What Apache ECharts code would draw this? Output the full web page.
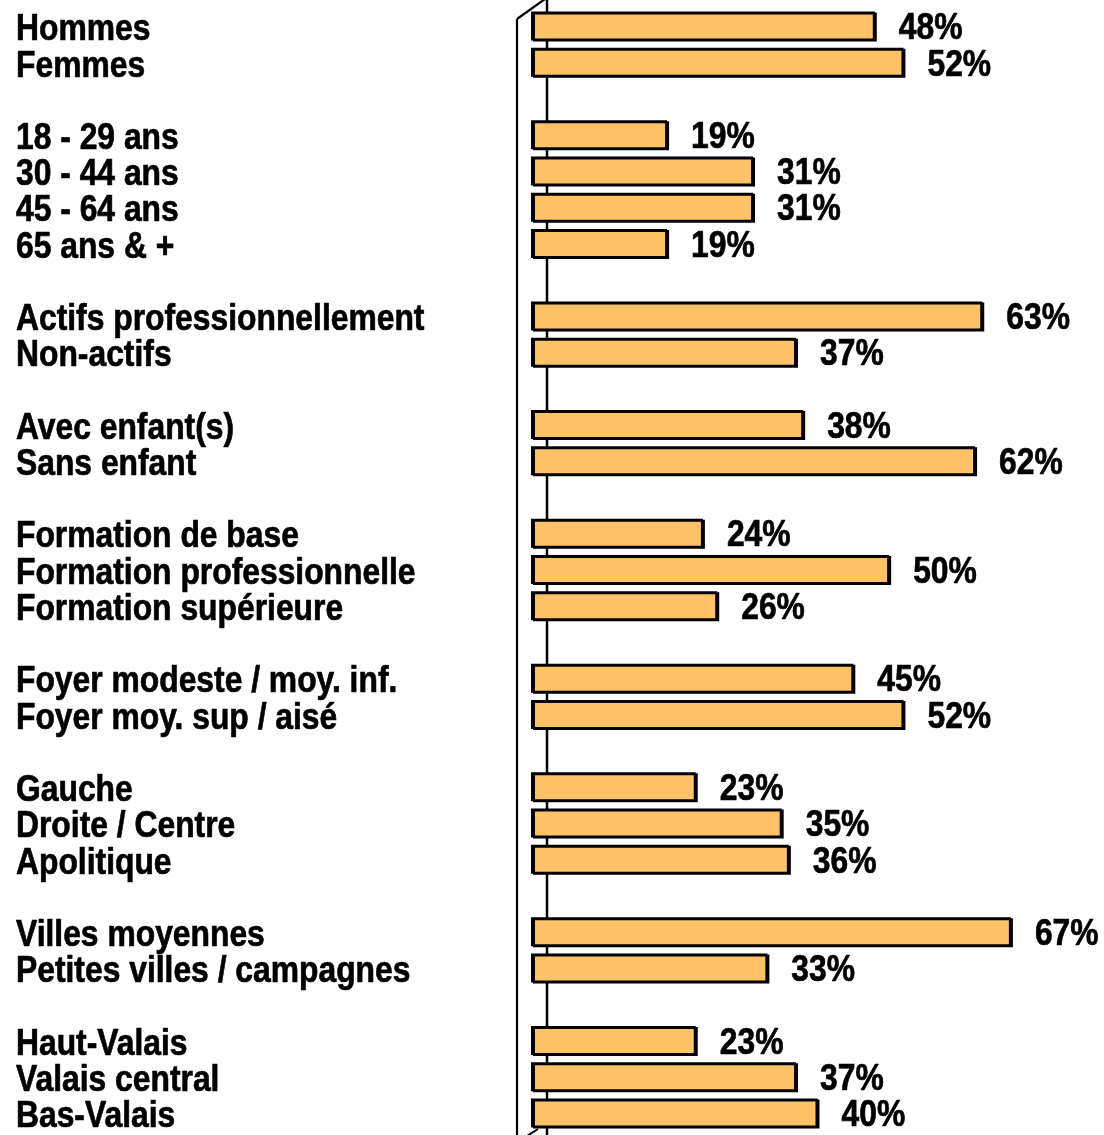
<!DOCTYPE html>
<html>
<head>
<meta charset="utf-8">
<title>Profil</title>
<script src="https://cdn.jsdelivr.net/npm/echarts@6.0.0/dist/echarts.min.js"></script>
<style>
  html, body { margin: 0; padding: 0; background: #fff; }
  #chart { width: 1104px; height: 1135px; }
</style>
</head>
<body>
<div id="chart"></div>
<script>
// categories, '' = empty row between groups
var categories = [
  'Hommes', 'Femmes', '',
  '18 - 29 ans', '30 - 44 ans', '45 - 64 ans', '65 ans & +', '',
  'Actifs professionnellement', 'Non-actifs', '',
  'Avec enfant(s)', 'Sans enfant', '',
  'Formation de base', 'Formation professionnelle', 'Formation supérieure', '',
  'Foyer modeste / moy. inf.', 'Foyer moy. sup / aisé', '',
  'Gauche', 'Droite / Centre', 'Apolitique', '',
  'Villes moyennes', 'Petites villes / campagnes', '',
  'Haut-Valais', 'Valais central', 'Bas-Valais'
]
var values = [
  48, 52, null,
  19, 31, 31, 19, null,
  63, 37, null,
  38, 62, null,
  24, 50, 26, null,
  45, 52, null,
  23, 35, 36, null,
  67, 33, null,
  23, 37, 40
]

// narrow bold look: Arial-metric bold squeezed horizontally
var FONT = "bold 37px 'Liberation Sans', Arimo, Arial, sans-serif"
var SQUEEZE = 0.86
var gridLeft = 531
var gridTop = 8
var gridHeight = 1123

var chart = echarts.init(document.getElementById('chart'))

// text drawn through a custom series so it can be squeezed
function textItem(x, y, str) {
  return {
    type: 'text',
    x: x,
    y: y,
    scaleX: SQUEEZE,
    style: {
      text: str,
      font: FONT,
      fill: '#000',
      stroke: '#000',
      lineWidth: 0.7,
      align: 'left',
      verticalAlign: 'middle'
    }
  }
}

var option = {
  animation: false,
  grid: { left: gridLeft, top: gridTop, width: 573, height: gridHeight },
  xAxis: {
    type: 'value',
    min: 0,
    max: 80,
    show: false
  },
  yAxis: {
    type: 'category',
    inverse: true,
    data: categories,
    axisLine: { show: false },
    axisTick: { show: false },
    axisLabel: { show: false }
  },
  // 3D wall lines
  graphic: [
    { type: 'line', z: 1, shape: { x1: 547, y1: 0, x2: 547, y2: 1135 }, style: { stroke: '#000', lineWidth: 2.5 } },
    { type: 'line', z: 1, shape: { x1: 517, y1: 19, x2: 517, y2: 1135 }, style: { stroke: '#000', lineWidth: 2.2 } },
    { type: 'line', z: 1, shape: { x1: 517, y1: 19, x2: 545, y2: -1 }, style: { stroke: '#000', lineWidth: 2.2 } },
    { type: 'line', z: 1, shape: { x1: 527, y1: 1136, x2: 538, y2: 1129 }, style: { stroke: '#000', lineWidth: 2 } }
  ],
  series: [
    {
      type: 'bar',
      data: values,
      barWidth: 29,
      itemStyle: {
        color: '#FFC266',
        borderColor: '#000',
        borderWidth: 2,
        shadowColor: '#000',
        shadowOffsetX: 2,
        shadowOffsetY: 1,
        shadowBlur: 0
      }
    },
    {
      // category names on the left
      type: 'custom',
      data: categories.map(function (c, i) { return [0, i] }),
      renderItem: function (params, api) {
        var name = categories[params.dataIndex]
        if (!name) return null
        var p = api.coord([0, api.value(1)])
        return textItem(16, p[1] + 4, name)
      }
    },
    {
      // value labels after bars
      type: 'custom',
      data: values.map(function (v, i) { return [v == null ? 0 : v, i] }),
      renderItem: function (params, api) {
        var v = values[params.dataIndex]
        if (v == null) return null
        var p = api.coord([v, api.value(1)])
        return textItem(p[0] + 24, p[1] + 3, v + '%')
      }
    }
  ]
}

chart.setOption(option)
</script>
</body>
</html>
